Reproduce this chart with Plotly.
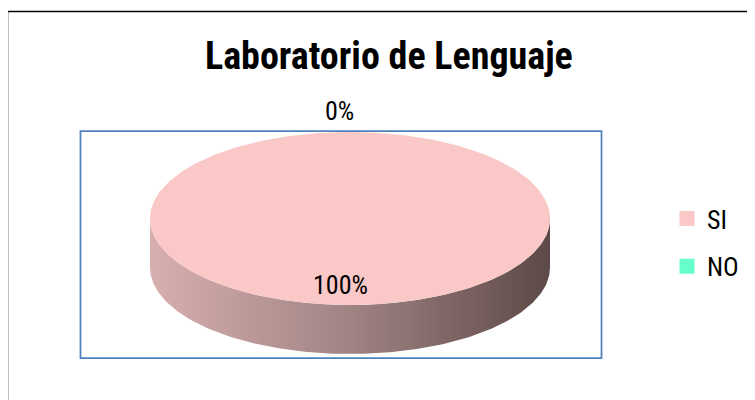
import numpy as np
import plotly.graph_objects as go

title = "Laboratorio de Lenguaje"
categories = ["SI", "NO"]
values = [100, 0]
top_colors = ["#fbc8c8", "#66ffcc"]
side_colors = [["#d8afaf", "#a08383", "#5d4947"], ["#3fb08a", "#2a7a60", "#1a4a3a"]]

FONT = "Roboto Condensed, Open Sans Condensed, Liberation Sans, sans-serif"
# page offset (body margin) so data coords == screen pixels
OFF = 8
W, H = 755, 400
cx, cy, rx, ry, depth = 350, 218.5, 200, 86.5, 49

total = sum(values)
fig = go.Figure()

def pt(a_deg, yoff=0.0, r=1.0):
    a = np.radians(a_deg)
    return cx + r * rx * np.sin(a), cy - r * ry * np.cos(a) + yoff

start = 0.0
slices = []
for cat, v in zip(categories, values):
    sweep = 360.0 * v / total
    slices.append((cat, start, start + sweep, v))
    start += sweep

# sides (front half only)
for i, (cat, a0, a1, v) in enumerate(slices):
    s0, s1 = max(a0, 90), min(a1, 270)
    if v <= 0 or s1 <= s0:
        continue
    ang = np.linspace(s0, s1, 200)
    xs_top, ys_top = pt(ang)
    xs_bot, ys_bot = pt(ang[::-1], depth)
    xs = np.concatenate([xs_top, xs_bot, xs_top[:1]])
    ys = np.concatenate([ys_top, ys_bot, ys_top[:1]])
    cs = side_colors[i]
    fig.add_trace(go.Scatter(
        x=xs, y=ys, mode="lines", line=dict(width=0), fill="toself",
        fillgradient=dict(type="horizontal",
                          colorscale=[[0, cs[0]], [0.5, cs[1]], [1, cs[2]]]),
        hoverinfo="skip", showlegend=False))

# top faces
for i, (cat, a0, a1, v) in enumerate(slices):
    if v <= 0:
        continue
    ang = np.linspace(a0, a1, 300)
    xs, ys = pt(ang)
    if a1 - a0 < 360:
        xs = np.concatenate([[cx], xs, [cx]])
        ys = np.concatenate([[cy], ys, [cy]])
    fig.add_trace(go.Scatter(
        x=xs, y=ys, mode="lines", line=dict(width=0, color=top_colors[i]),
        fill="toself", fillcolor=top_colors[i],
        hoverinfo="skip", showlegend=False))

# labels
annotations = []
for i, (cat, a0, a1, v) in enumerate(slices):
    mid = (a0 + a1) / 2
    pct = f"{round(100 * v / total)}%"
    if v > 0:
        lx, ly = pt(mid, 0, 0.77)
        lx -= 10
    else:
        lx, ly = pt(mid, 0, 1.24)
        lx -= 11
    annotations.append(dict(x=lx, y=ly, text=pct, showarrow=False,
                            font=dict(family=FONT, size=26, color="#000000"),
                            xref="x", yref="y"))

annotations.append(dict(x=389, y=56, text=f"<b>{title}</b>", showarrow=False,
                        font=dict(family=FONT, size=38, color="#000000"),
                        xref="x", yref="y"))

# legend entries
for i, cat in enumerate(categories):
    fig.add_trace(go.Scatter(
        x=[None], y=[None], mode="markers", name=cat, legendgroup=cat,
        marker=dict(symbol="square", size=15, color=top_colors[i])))

shapes = [
    dict(type="rect", x0=80.5, y0=131, x1=601.5, y1=358, xref="x", yref="y",
         line=dict(color="#4f81bd", width=1.75), layer="below"),
    dict(type="rect", x0=7.5, y0=11.5, x1=800, y1=450, xref="x", yref="y",
         line=dict(color="#000000", width=1.5), layer="below"),
]

fig.update_layout(
    width=W - OFF, height=H - OFF, margin=dict(l=0, r=0, t=0, b=0),
    paper_bgcolor="white", plot_bgcolor="white",
    xaxis=dict(range=[OFF, W], visible=False, fixedrange=True),
    yaxis=dict(range=[H, OFF], visible=False, fixedrange=True),
    shapes=shapes, annotations=annotations,
    showlegend=True,
    legend=dict(x=(667 - OFF) / (W - OFF), y=1 - (195 - OFF) / (H - OFF),
                xanchor="left", yanchor="top",
                font=dict(family=FONT, size=26, color="#000000"),
                tracegroupgap=11, bgcolor="rgba(0,0,0,0)", itemwidth=30),
    hovermode=False,
)

fig.write_html("out.html")
